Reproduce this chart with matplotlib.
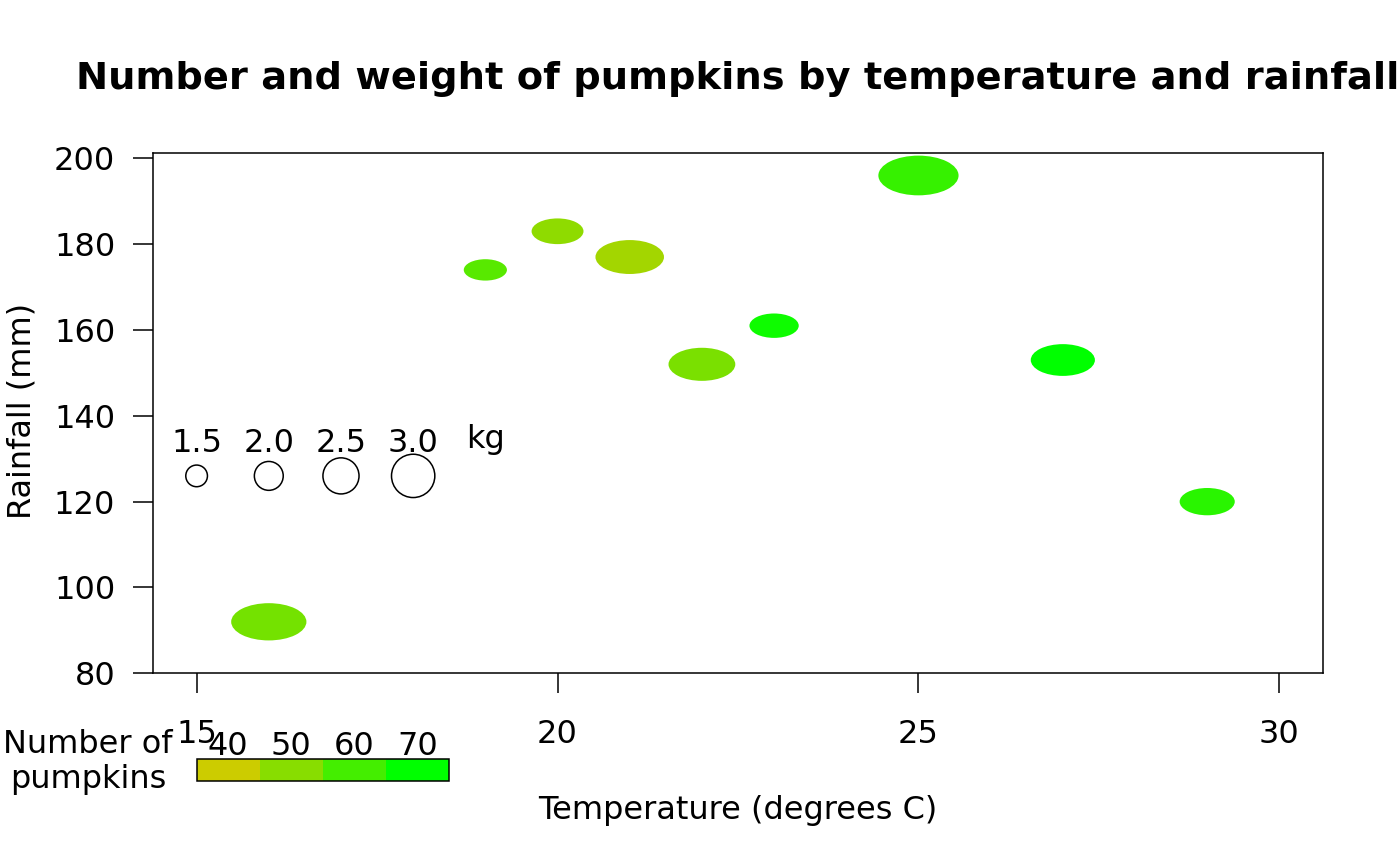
import numpy as np
import matplotlib
matplotlib.use("Agg")
import matplotlib.pyplot as plt
from matplotlib.patches import Ellipse, Rectangle

# ---------------- data ----------------
temperature = [19, 20, 21, 22, 23, 25, 27, 29, 16]
rainfall = [174, 183, 177, 152, 161, 196, 153, 120, 92]
num_pumpkins = [57, 49, 46, 52, 68, 62, 70, 64, 53]
mean_weight = [1.48, 1.78, 2.35, 2.29, 1.69, 2.75, 2.2, 1.89, 2.58]

legend_weights = [1.5, 2.0, 2.5, 3.0]
legend_weight_labels = ["1.5", "2.0", "2.5", "3.0"]
legend_counts = [40, 50, 60, 70]
legend_count_labels = ["40", "50", "60", "70"]

xticks = [15, 20, 25, 30]
yticks = [80, 100, 120, 140, 160, 180, 200]

title = "Number and weight of pumpkins by temperature and rainfall"
xlabel = "Temperature (degrees C)"
ylabel = "Rainfall (mm)"

# ---------------- style ----------------
W, H = 1400, 866
FS = 23
plt.rcParams['font.family'] = ['DejaVu Sans']

def pcol(n):
    f = min(max((n - 40) / 30.0, 0.0), 1.0)
    return (0.8 * (1 - f), 0.8 + 0.2 * f, 0.0)

fig = plt.figure(figsize=(W / 100, H / 100), dpi=100)
L, R, T, B = 153.3, 1322.7, 153.3, 673.3
ax = fig.add_axes([L / W, 1 - B / H, (R - L) / W, (B - T) / H])
xlim = (14.4, 30.6)
ylim = (80, 201.17)
ax.set_xlim(*xlim)
ax.set_ylim(*ylim)

pxx = (R - L) / (xlim[1] - xlim[0])
pxy = (B - T) / (ylim[1] - ylim[0])

def fx(px):
    return px / W

def fy(py):
    return 1 - py / H

# data ellipses
for t, r, n, w in zip(temperature, rainfall, num_pumpkins, mean_weight):
    h_px = 0.2 * w * pxx
    w_px = 2.02 * h_px
    ax.add_patch(Ellipse((t, r), w_px / pxx, h_px / pxy, facecolor=pcol(n),
                         edgecolor='none', lw=0))

# size legend
leg_y = 126
for i, (w, lab) in enumerate(zip(legend_weights, legend_weight_labels)):
    xc = 15 + i
    d = 0.2 * w
    ax.add_patch(Ellipse((xc, leg_y), d, d * pxx / pxy, facecolor='none',
                         edgecolor='black', lw=1.1))
    ax.text(xc, 80 + (B - 452.5) / pxy, lab, ha='center', va='baseline', fontsize=FS)
ax.text(19, 80 + (B - 448.5) / pxy, "kg", ha='center', va='baseline', fontsize=FS)

# colour legend (below axes)
bw = 0.875
y0 = 80 - (781.3 - B) / pxy
y1 = 80 - (759.0 - B) / pxy
for i, (c, lab) in enumerate(zip(legend_counts, legend_count_labels)):
    ax.add_patch(Rectangle((15 + i * bw, y0), bw, y1 - y0, facecolor=pcol(c),
                           edgecolor='none', clip_on=False))
    ax.text(15 + (i + 0.5) * bw, 80 - (755 - B) / pxy, lab, ha='center',
            va='baseline', fontsize=FS, clip_on=False)
ax.add_patch(Rectangle((15, y0), bw * len(legend_counts), y1 - y0, facecolor='none',
                       edgecolor='black', lw=1.1, clip_on=False))
fig.text(fx(88), fy(753), "Number of", ha='center', va='baseline', fontsize=FS)
fig.text(fx(88), fy(788), "pumpkins", ha='center', va='baseline', fontsize=FS)

# axes styling
for s in ax.spines.values():
    s.set_linewidth(1.1)
ax.set_xticks(xticks)
ax.set_xticklabels([str(v) for v in xticks])
ax.set_yticks(yticks)
ax.set_yticklabels([str(v) for v in yticks])
ax.tick_params(axis='x', direction='out', length=14.4, width=1.1, pad=18.5, labelsize=FS)
ax.tick_params(axis='y', direction='out', length=14.4, width=1.1, pad=13, labelsize=FS)

fig.text(fx(738), fy(819), xlabel, ha='center', va='baseline', fontsize=FS)
fig.text(fx(22), fy(411), ylabel, ha='center', va='center', rotation=90, fontsize=FS)
fig.text(fx(738), fy(89.3), title, ha='center', va='baseline', fontsize=27.6,
         fontweight='bold')

fig.savefig("out.png", dpi=100)
